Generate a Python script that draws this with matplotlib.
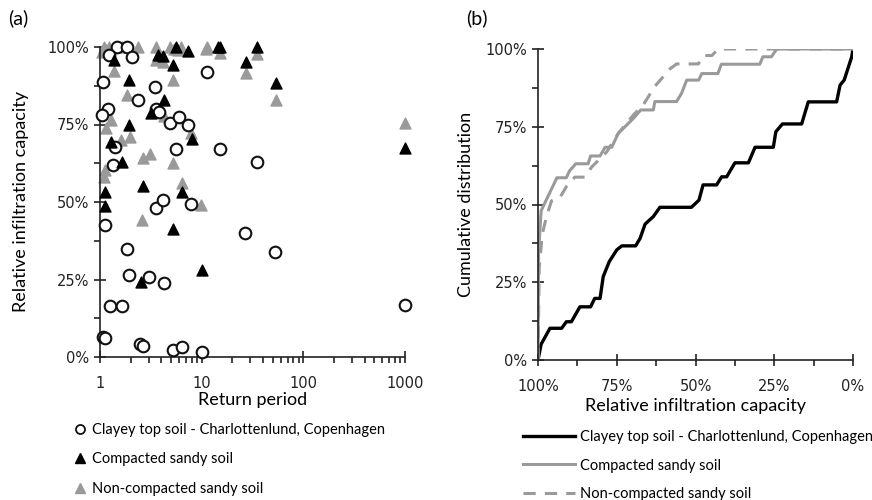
import numpy as np
import matplotlib.pyplot as plt
from matplotlib.ticker import FixedLocator, FuncFormatter, NullFormatter, LogLocator
from matplotlib.lines import Line2D

# ---- (a) scatter: return period vs relative infiltration capacity (%)
clay_T = [1.48, 1.86, 1.23, 2.06, 11.3, 1.08, 3.48, 2.38, 1.20, 1.05, 3.56, 3.78,
          4.93, 5.96, 7.32, 1.41, 5.62, 15.3, 1.35, 3.56, 4.14, 7.91, 1.11, 1.86,
          1.94, 3.06, 4.23, 1.26, 1.63, 1.08, 1.11, 2.49, 2.67, 5.2, 6.38, 10.07,
          34.8, 26.7, 52.8, 1000]
clay_v = [100, 100, 97.4, 96.9, 91.8, 88.6, 87.2, 82.9, 79.9, 78.1, 80.0, 79.1,
          75.6, 77.3, 74.8, 67.8, 67.0, 67.0, 61.9, 48.1, 50.6, 49.3, 42.6, 34.7,
          26.5, 25.9, 24.0, 16.5, 16.5, 6.6, 6.1, 4.2, 3.6, 2.3, 3.3, 1.7,
          63.0, 39.9, 33.8, 16.8]

comp_T = [1.38, 1.91, 3.75, 4.14, 5.2, 7.32, 5.62, 14.5, 4.3, 3.18, 1.94, 1.28,
          1.64, 8.03, 2.67, 6.44, 1.11, 1.11, 2.53, 5.2, 10.07, 15.3, 34.8, 27.1,
          53.9, 1000]
comp_v = [95.8, 89.5, 97.4, 97.1, 94.2, 98.8, 100, 99.9, 82.9, 78.8, 74.8, 69.2,
          63.0, 70.2, 55.2, 53.3, 53.1, 48.8, 24.3, 41.2, 28.1, 100, 100, 95.3,
          88.5, 67.3]

noncomp_T = [1.10, 1.23, 1.38, 1.66, 2.34, 3.56, 4.83, 5.4, 5.8, 6.2, 11.1, 1.05,
             1.14, 1.38, 3.56, 4.14, 5.2, 1.86, 4.3, 1.28, 1.14, 1.6, 1.98, 7.91,
             2.62, 3.1, 5.2, 1.12, 1.10, 6.44, 9.9, 2.57, 11.3, 15.3, 34.8, 27.1,
             53.9, 1000]
noncomp_v = [100, 100, 100, 100, 100, 100, 100, 99.5, 99, 100, 99.5, 98.5,
             99, 92.4, 95.8, 95.3, 89.4, 84.5, 77.7, 76.5, 73.8, 70.0, 70.9, 72.1,
             64.1, 65.5, 62.7, 60.3, 58.2, 56.2, 49.0, 44.2, 100, 98.2, 97.7, 91.7,
             82.9, 75.4]

# ---- (b) cumulative distribution curves (relative capacity %, cumulative %)
clay_cap = [100, 99.0, 96.2, 92.5, 91.0, 89.4, 86.7, 83.3, 82.0, 80.3, 79.3, 77.4,
            75.0, 73.4, 69.0, 67.6, 66.0, 63.4, 61.3, 51.3, 48.9, 47.6, 43.3, 41.7,
            40.1, 37.5, 33.2, 31.1, 25.3, 24.5, 22.4, 16.3, 14.2, 5.2, 4.1, 2.8,
            0.4, 0]
clay_cum = [0, 5.1, 10.2, 10.2, 12.3, 12.3, 17.1, 17.1, 19.8, 19.8, 26.8, 31.6,
            35.4, 36.7, 36.7, 39.1, 43.7, 46.1, 49.1, 49.1, 51.4, 56.3, 56.3, 58.9,
            58.9, 63.4, 63.4, 68.4, 68.4, 73.4, 75.9, 75.9, 83.0, 83.0, 88.4, 90.0,
            97.5, 100]

comp_cap = [100, 99.8, 99.0, 94.0, 91.0, 90.0, 88.0, 84.1, 83.3, 80.3, 78.7, 76.6,
            74.5, 69.7, 67.4, 63.4, 62.9, 56.0, 54.4, 52.8, 49.0, 48.0, 42.9, 41.8,
            29.6, 28.6, 25.9, 24.2, 0]
comp_cum = [0, 35, 48, 58.6, 58.6, 60.8, 63.1, 63.1, 65.6, 65.6, 68.4, 68.4,
            72.9, 77.7, 80.4, 80.4, 83.1, 83.1, 85.8, 90.0, 90.0, 92.1, 92.1, 95.1,
            95.1, 97.5, 97.5, 100, 100]

noncomp_cap = [100, 99.6, 98.6, 97.2, 95.7, 93.0, 90.9, 88.3, 85.1, 83.0, 78.2,
               74.5, 69.7, 66.6, 62.9, 58.1, 56.0, 49.1, 47.5, 44.8, 42.8, 0]
noncomp_cum = [0, 30, 40.7, 46.5, 51.2, 52.3, 55.9, 58.8, 58.8, 62.0, 66.9,
               72.9, 78.8, 82.0, 88.0, 93.6, 95.2, 95.2, 97.9, 97.9, 100, 100]

labels = ["Clayey top soil - Charlottenlund, Copenhagen",
          "Compacted sandy soil",
          "Non-compacted sandy soil"]

grey = "#9a9a9a"
txt_font = "Lato"
leg_fs = 10.5
pct = FuncFormatter(lambda v, p: "%d%%" % round(v))

fig = plt.figure(figsize=(8.72, 5), dpi=100)
axa = fig.add_axes([100/872, 1-357/500, 305/872, 310/500])
axb = fig.add_axes([538/872, 1-360/500, 315/872, 311/500])


def style(ax):
    for s in ["top", "right"]:
        ax.spines[s].set_visible(False)
    for s in ["left", "bottom"]:
        ax.spines[s].set_linewidth(1.2)
        ax.spines[s].set_color("#222222")
    ax.tick_params(which="major", direction="inout", length=9, width=1.2,
                   labelsize=10.5, colors="#222222")
    ax.tick_params(which="minor", direction="out", length=4, width=1.2,
                   colors="#222222")
    ax.tick_params(axis="x", which="major", pad=9)
    ax.yaxis.set_major_locator(FixedLocator([0, 25, 50, 75, 100]))
    ax.yaxis.set_minor_locator(FixedLocator([12.5, 37.5, 62.5, 87.5]))
    ax.yaxis.set_major_formatter(pct)
    ax.set_ylim(0, 100)


# (a)
axa.scatter(clay_T, clay_v, s=70, facecolors="white", edgecolors="#111111",
            linewidths=1.5, marker="o", clip_on=False, zorder=3, label=labels[0])
axa.scatter(comp_T, comp_v, s=62, color="black", marker="^", clip_on=False,
            zorder=4, label=labels[1])
axa.scatter(noncomp_T, noncomp_v, s=62, color=grey, marker="^", clip_on=False,
            zorder=2, label=labels[2])
axa.set_xscale("log")
axa.set_xlim(1, 1000)
style(axa)
axa.xaxis.set_major_locator(FixedLocator([1, 10, 100, 1000]))
axa.xaxis.set_major_formatter(FuncFormatter(lambda v, p: "%d" % round(v)))
axa.xaxis.set_minor_locator(LogLocator(base=10, subs=np.arange(2, 10)))
axa.xaxis.set_minor_formatter(NullFormatter())
axa.set_xlabel("Return period", fontsize=13, family=txt_font, labelpad=1)
axa.set_ylabel("Relative infiltration capacity", fontsize=13, family=txt_font,
               labelpad=13)

h = [Line2D([], [], ls="none", marker="o", mfc="white", mec="#111111", mew=1.3, ms=6.5),
     Line2D([], [], ls="none", marker="^", color="black", ms=6.5),
     Line2D([], [], ls="none", marker="^", color=grey, ms=6.5)]
fig.legend(h, labels, loc="upper left", bbox_to_anchor=(76/872, 1-423/500),
           frameon=False, borderpad=0, borderaxespad=0, handlelength=0.6,
           handletextpad=0.5, labelspacing=1.05,
           prop={"family": txt_font, "size": leg_fs})

# (b)
axb.plot(clay_cap, clay_cum, color="black", lw=2.4, label=labels[0])
axb.plot(comp_cap, comp_cum, color=grey, lw=2.2, label=labels[1])
axb.plot(noncomp_cap, noncomp_cum, color=grey, lw=2.2, ls=(0, (4, 3)),
         label=labels[2])
axb.set_xlim(100, 0)
style(axb)
axb.xaxis.set_major_locator(FixedLocator([0, 25, 50, 75, 100]))
axb.xaxis.set_minor_locator(FixedLocator([12.5, 37.5, 62.5, 87.5]))
axb.xaxis.set_major_formatter(pct)
axb.set_xlabel("Relative infiltration capacity", fontsize=13, family=txt_font,
               labelpad=3)
axb.set_ylabel("Cumulative distribution", fontsize=13, family=txt_font, labelpad=8)
fig.legend(*axb.get_legend_handles_labels(), loc="upper left",
           bbox_to_anchor=(523/872, 1-430/500), frameon=False, borderpad=0,
           borderaxespad=0, handlelength=3.56, handletextpad=0.34,
           labelspacing=1.0, prop={"family": txt_font, "size": leg_fs})

fig.text(8/872, 1-18/500, "(a)", fontsize=14, family=txt_font, va="center")
fig.text(466/872, 1-18/500, "(b)", fontsize=14, family=txt_font, va="center")

fig.savefig("out.png", dpi=100)
